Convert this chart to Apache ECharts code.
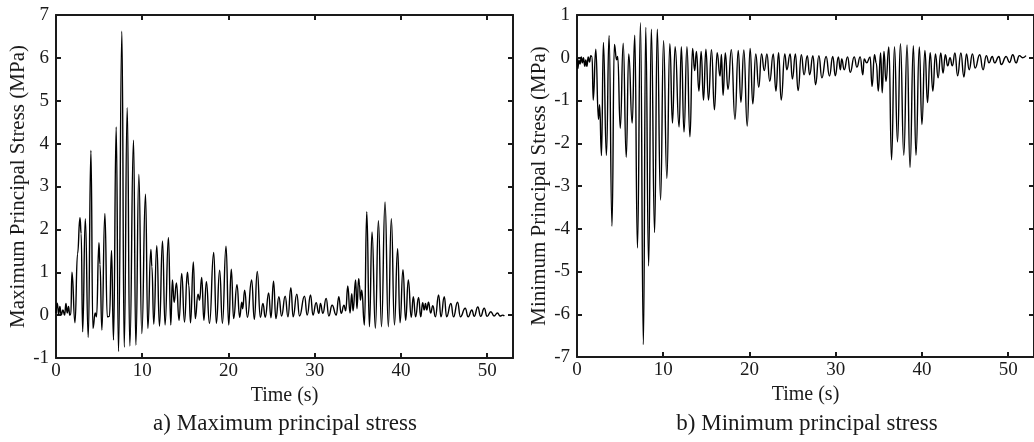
<!DOCTYPE html>
<html>
<head>
<meta charset="utf-8">
<script src="https://cdn.jsdelivr.net/npm/echarts@6/dist/echarts.min.js"></script>
<style>
  html, body { margin: 0; padding: 0; background: #fff; }
  #chart { width: 1034px; height: 442px; }
</style>
</head>
<body>
<div id="chart"></div>
<script>
// Maximum principal stress history: turning points (time in s, stress in MPa)
const maxTime = [
  0, 0.15, 0.3, 0.45, 0.6, 0.8, 1.0, 1.15, 1.3, 1.45, 1.6, 1.72,
  1.85, 2.2, 2.5, 2.78, 2.92, 3.09, 3.4, 3.74, 4.05, 4.28, 4.55, 4.7,
  4.98, 5.1, 5.32, 5.67, 5.95, 6.2, 6.44, 6.67, 6.98, 7.25, 7.64, 7.91,
  8.26, 8.56, 8.99, 9.26, 9.61, 9.95, 10.38, 10.65, 11.0, 11.12, 11.34, 11.69,
  12.0, 12.35, 12.65, 13.04, 13.31, 13.5, 13.7, 13.97, 14.27, 14.58, 14.9, 15.24,
  15.4, 15.6, 15.93, 16.15, 16.47, 16.65, 16.9, 17.15, 17.44, 17.8, 18.29, 18.6,
  18.98, 19.3, 19.72, 20.03, 20.33, 20.6, 20.99, 21.3, 21.55, 21.65, 21.88, 22.2,
  22.69, 23.0, 23.34, 23.7, 24.0, 24.27, 24.66, 24.93, 25.23, 25.5, 25.85, 26.16,
  26.58, 26.9, 27.24, 27.5, 27.93, 28.24, 28.82, 29.13, 29.52, 29.8, 30.17, 30.48,
  30.67, 30.95, 31.33, 31.64, 32.02, 32.5, 32.8, 33.07, 33.4, 33.6, 33.84, 34.1,
  34.3, 34.45, 34.75, 34.9, 35.1, 35.2, 35.3, 35.46, 35.77, 36.04, 36.35, 36.65,
  37.04, 37.39, 37.75, 38.16, 38.54, 38.89, 39.25, 39.62, 39.9, 40.24, 40.55, 40.86,
  41.2, 41.44, 41.7, 42.05, 42.3, 42.52, 42.7, 42.85, 43.0, 43.2, 43.45, 43.7,
  44.0, 44.37, 44.65, 45.03, 45.3, 45.8, 46.1, 46.57, 46.9, 47.46, 47.8, 48.23,
  48.5, 48.92, 49.25, 49.66, 50.0, 50.43, 50.8, 51.2, 51.5, 51.8, 52.0
];
const maxStress = [
  0.05, 0.28, 0.02, 0.2, 0.0, 0.12, 0.0, 0.27, 0.05, 0.2, 0.0, 0.02,
  1.0, -0.18, 1.43, 2.27, 1.9, -0.39, 2.25, -0.52, 3.84, -0.31, 0.05, -0.04,
  1.69, 1.18, -0.35, 2.37, -0.04, -0.03, 1.51, -0.58, 4.39, -0.85, 6.62, -0.75,
  4.84, -0.72, 4.08, -0.70, 3.28, -0.43, 2.82, -0.31, 1.53, 1.13, -0.21, 1.62,
  -0.26, 1.73, -0.23, 1.81, -0.23, 0.82, 0.3, 0.75, -0.12, 0.97, -0.16, 1.0,
  0.7, -0.18, 1.24, -0.08, 0.49, 0.35, 0.88, -0.12, 0.78, -0.19, 1.46, -0.19,
  1.05, -0.19, 1.61, -0.23, 1.07, -0.08, 0.71, -0.05, 0.3, 0.15, 0.58, -0.05,
  0.82, -0.1, 1.02, -0.05, 0.27, -0.05, 0.52, -0.06, 0.79, -0.08, 0.43, -0.02,
  0.44, -0.04, 0.64, -0.04, 0.49, -0.02, 0.44, 0.0, 0.47, 0.0, 0.29, 0.04,
  0.27, 0.04, 0.39, -0.02, 0.23, 0.0, 0.43, 0.04, 0.23, 0.1, 0.68, 0.05,
  0.5, 0.1, 0.82, 0.15, 0.85, 0.71, 0.35, 0.58, -0.23, 2.41, -0.27, 1.94,
  -0.31, 2.20, -0.27, 2.64, -0.27, 2.25, -0.23, 1.55, -0.18, 1.06, -0.12, 0.82,
  -0.05, 0.43, -0.04, 0.41, -0.04, 0.29, 0.12, 0.27, 0.12, 0.3, 0.05, 0.22,
  -0.04, 0.47, -0.04, 0.43, -0.04, 0.27, -0.04, 0.30, -0.04, 0.16, -0.04, 0.12,
  -0.03, 0.19, -0.03, 0.16, -0.03, 0.08, -0.02, 0.05, -0.02, 0.0, -0.02
];

// Minimum principal stress history: turning points (time in s, stress in MPa)
const minTime = [
  0, 0.1, 0.22, 0.35, 0.5, 0.62, 0.75, 0.9, 1.02, 1.15, 1.3, 1.45,
  1.6, 1.75, 1.88, 2.18, 2.49, 2.62, 2.84, 3.06, 3.41, 3.72, 4.06, 4.33,
  4.6, 4.72, 5.02, 5.36, 5.71, 6.0, 6.4, 6.7, 7.01, 7.36, 7.7, 7.97,
  8.31, 8.62, 9.0, 9.31, 9.69, 10.04, 10.42, 10.77, 11.07, 11.38, 11.84, 12.1,
  12.41, 12.75, 13.1, 13.4, 13.65, 13.85, 14.14, 14.4, 14.67, 14.95, 15.25, 15.6,
  15.94, 16.25, 16.59, 16.75, 16.94, 17.2, 17.51, 17.9, 18.32, 18.7, 19.01, 19.35,
  19.74, 20.08, 20.39, 20.73, 21.08, 21.4, 21.72, 22.03, 22.35, 22.76, 23.07, 23.38,
  23.68, 24.1, 24.33, 24.72, 24.98, 25.33, 25.64, 26.02, 26.33, 26.71, 26.98, 27.36,
  27.67, 28.05, 28.4, 28.89, 29.28, 29.66, 29.96, 30.31, 30.54, 30.7, 30.99, 31.38,
  31.69, 32.15, 32.46, 32.84, 33.15, 33.3, 33.6, 33.99, 34.22, 34.5, 34.71, 34.94,
  35.21, 35.4, 35.6, 35.83, 36.17, 36.48, 36.82, 37.17, 37.51, 37.9, 38.28, 38.62,
  39.01, 39.31, 39.7, 40.0, 40.35, 40.65, 40.96, 41.27, 41.57, 41.88, 42.19, 42.45,
  42.72, 42.99, 43.26, 43.53, 43.83, 44.14, 44.52, 44.87, 45.17, 45.48, 45.86, 46.17,
  46.71, 47.09, 47.47, 47.78, 48.16, 48.43, 48.93, 49.2, 49.77, 50.16, 50.54, 50.92,
  51.3, 51.68, 52.07
];
const minStress = [
  -0.02, -0.25, -0.05, -0.15, 0.02, -0.12, 0.0, -0.2, -0.05, -0.2, 0.02, -0.1,
  0.05, 0.02, -0.99, 0.2, -1.44, -1.1, -2.29, 0.36, -2.29, 0.52, -3.94, 0.31,
  -0.05, 0.03, -1.65, 0.34, -2.33, 0.09, -1.53, 0.53, -4.45, 0.82, -6.71, 0.71,
  -4.87, 0.67, -4.09, 0.67, -3.33, 0.40, -2.82, 0.33, -1.53, 0.26, -1.62, 0.26,
  -1.74, 0.26, -1.85, 0.22, -0.3, 0.15, -0.78, 0.15, -0.99, 0.2, -0.99, 0.19,
  -1.22, 0.12, -0.43, 0.08, -0.88, 0.11, -0.74, 0.19, -1.44, 0.17, -1.04, 0.18,
  -1.60, 0.22, -1.08, 0.09, -0.69, 0.09, -0.3, 0.09, -0.55, 0.09, -0.78, 0.12,
  -0.99, 0.09, -0.28, 0.09, -0.5, 0.09, -0.77, 0.07, -0.4, 0.05, -0.4, 0.05,
  -0.63, 0.05, -0.47, 0.03, -0.43, 0.03, -0.42, 0.02, -0.28, -0.03, -0.28, 0.02,
  -0.34, 0.02, -0.22, 0.02, -0.40, -0.03, -0.12, 0.02, -0.67, 0.07, -0.12, -0.78,
  0.11, -0.82, 0.15, -0.55, 0.25, -2.39, 0.26, -1.97, 0.33, -2.28, 0.30, -2.57,
  0.28, -2.28, 0.25, -1.56, 0.17, -1.05, 0.12, -0.78, 0.09, -0.47, 0.11, -0.36,
  0.07, -0.19, 0.0, -0.19, 0.11, -0.42, 0.11, -0.45, 0.09, -0.28, 0.09, -0.24,
  0.07, -0.28, 0.05, -0.12, 0.03, -0.12, 0.03, -0.16, 0.03, -0.11, 0.07, -0.12,
  0.05, -0.0, 0.05, 0.03
];

// Axis ranges and tick labels
const timeTicks = [0, 10, 20, 30, 40, 50];
const maxStressTicks = [-1, 0, 1, 2, 3, 4, 5, 6, 7];
const minStressTicks = [-7, -6, -5, -4, -3, -2, -1, 0, 1];
const timeMax = 53;

const captions = ['a) Maximum principal stress', 'b) Minimum principal stress'];
const yNames = ['Maximum Principal Stress (MPa)', 'Minimum Principal Stress (MPa)'];
const xName = 'Time (s)';

const FONT = '"Liberation Serif", "Times New Roman", serif';
const INK = '#1a1a1a';

function pairs(ts, vs) { return ts.map((t, i) => [t, vs[i]]); }

const axisLine = { show: true, onZero: false, lineStyle: { color: INK, width: 2 } };
const tick = { show: true, inside: true, length: 5, lineStyle: { color: INK, width: 2 } };

function xAxes(gi) {
  return [
    {
      gridIndex: gi, type: 'value', position: 'bottom', min: 0, max: timeMax, interval: 10,
      name: xName, nameLocation: 'middle', nameGap: 28,
      nameTextStyle: { fontFamily: FONT, fontSize: 20, color: INK },
      axisLine, axisTick: tick, splitLine: { show: false },
      axisLabel: {
        fontFamily: FONT, fontSize: 19, color: INK, margin: 4, showMaxLabel: false,
        formatter: v => (timeTicks.includes(v) ? String(v) : '')
      }
    },
    {
      gridIndex: gi, type: 'value', position: 'top', min: 0, max: timeMax, interval: 10,
      axisLine, axisTick: tick, axisLabel: { show: false }, splitLine: { show: false }
    }
  ];
}

function yAxes(gi, ticks) {
  const lo = ticks[0], hi = ticks[ticks.length - 1];
  return [
    {
      gridIndex: gi, type: 'value', position: 'left', min: lo, max: hi, interval: 1,
      name: yNames[gi], nameLocation: 'middle', nameGap: 27,
      nameTextStyle: { fontFamily: FONT, fontSize: 21, color: INK },
      axisLine, axisTick: tick, splitLine: { show: false },
      axisLabel: {
        fontFamily: FONT, fontSize: 19, color: INK, margin: 7,
        formatter: v => (ticks.includes(v) ? String(v) : '')
      }
    },
    {
      gridIndex: gi, type: 'value', position: 'right', min: lo, max: hi, interval: 1,
      axisLine, axisTick: tick, axisLabel: { show: false }, splitLine: { show: false }
    }
  ];
}

const lineSeries = (gi, data) => ({
  type: 'line', xAxisIndex: gi * 2, yAxisIndex: gi * 2, data,
  smooth: 0.5, smoothMonotone: 'x', showSymbol: false, symbol: 'none',
  lineStyle: { color: '#000', width: 1.4 }, animation: false
});

const captionText = (cx, text) => ({
  type: 'text', x: cx, y: 424, silent: true,
  style: { text, font: '23px ' + FONT, fill: INK, align: 'center', verticalAlign: 'middle',
           textAlign: 'center', textVerticalAlign: 'middle' }
});

const chart = echarts.init(document.getElementById('chart'), null, { renderer: 'canvas' });
chart.setOption({
  animation: false,
  backgroundColor: '#fff',
  grid: [
    { left: 56, top: 15, width: 457, height: 343 },
    { left: 577, top: 15, width: 461, height: 342 }
  ],
  xAxis: [...xAxes(0), ...xAxes(1)],
  yAxis: [...yAxes(0, maxStressTicks), ...yAxes(1, minStressTicks)],
  series: [
    lineSeries(0, pairs(maxTime, maxStress)),
    lineSeries(1, pairs(minTime, minStress))
  ],
  graphic: [captionText(285, captions[0]), captionText(807, captions[1])]
});
</script>
</body>
</html>
